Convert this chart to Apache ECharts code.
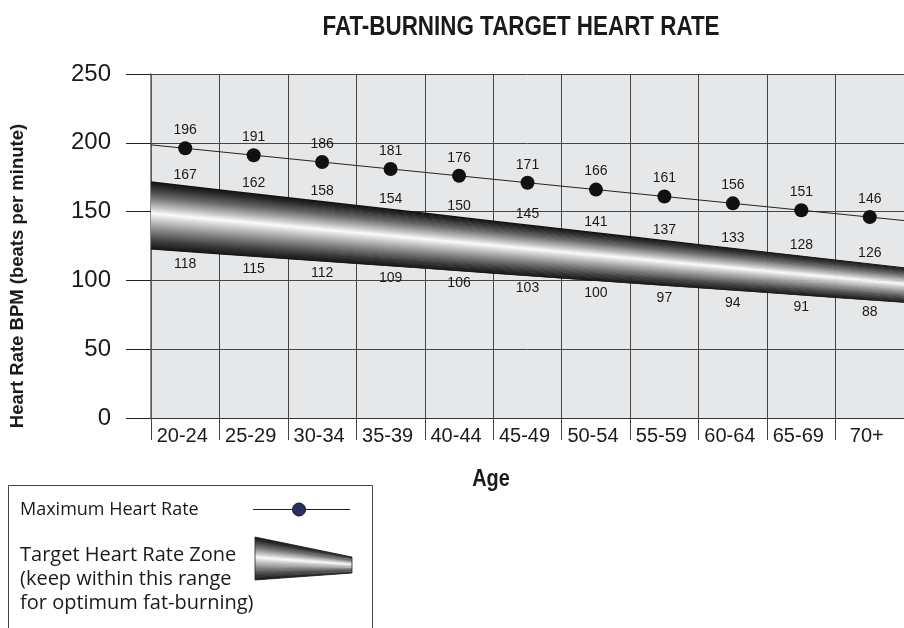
<!DOCTYPE html>
<html>
<head>
<meta charset="utf-8">
<script src="https://cdn.jsdelivr.net/npm/echarts@6/dist/echarts.min.js"></script>
<style>
html,body{margin:0;padding:0;background:#fff;}
#chart{width:904px;height:628px;}
</style>
</head>
<body>
<div id="chart"></div>
<script>
// ---- data ----
const categories = ['20-24','25-29','30-34','35-39','40-44','45-49','50-54','55-59','60-64','65-69','70+'];
const maxHR = [196,191,186,181,176,171,166,161,156,151,146];
const zoneHigh = [167,162,158,154,150,145,141,137,133,128,126];
const zoneLow = [118,115,112,109,106,103,100,97,94,91,88];
// drawn edges of the shaded zone band at the 12 category boundaries
const bandTop = [172,166.3,160.6,155,149.3,143.6,137.9,132.2,126.5,120.9,115.2,109.5];
const bandBottom = [122.4,118.9,115.4,111.9,108.4,104.9,101.3,97.8,94.3,90.8,87.3,83.8];
const yMin = 0, yMax = 250, yStep = 50;

// ---- styling helpers ----
const FONT = "'Liberation Sans', Arial, Helvetica, sans-serif";
const shadeStops = [[0,15],[0.07,40],[0.22,105],[0.38,195],[0.47,252],[0.53,220],[0.7,140],[0.88,60],[1,20]];
function shade(t){
  for (let i=1;i<shadeStops.length;i++){
    const a=shadeStops[i-1], b=shadeStops[i];
    if (t<=b[0]){ const f=(t-a[0])/(b[0]-a[0]); const v=Math.round(a[1]+(b[1]-a[1])*f); return 'rgb('+v+','+v+','+v+')'; }
  }
  const v=shadeStops[shadeStops.length-1][1]; return 'rgb('+v+','+v+','+v+')';
}
const STRIPS = 60;
function stripsBetween(topPts, botPts){
  const out=[];
  for (let k=0;k<STRIPS;k++){
    const t0=k/STRIPS, t1=Math.min(1,(k+1)/STRIPS+0.012);
    const up=topPts.map((p,j)=>[p[0]+(botPts[j][0]-p[0])*t0, p[1]+(botPts[j][1]-p[1])*t0]);
    const lo=topPts.map((p,j)=>[p[0]+(botPts[j][0]-p[0])*t1, p[1]+(botPts[j][1]-p[1])*t1]).reverse();
    out.push({type:'polygon', shape:{points:up.concat(lo)}, style:{fill:shade((k+0.5)/STRIPS), stroke:null}});
  }
  return out;
}

// max line: extend to the plot edges along the same slope
const maxLineData = [{value:[0, maxHR[0]+(maxHR[0]-maxHR[1])/2], symbol:'none', label:{show:false}}]
  .concat(maxHR.map((v,i)=>({value:[i+0.5, v]})))
  .concat([{value:[categories.length, maxHR[maxHR.length-1]-(maxHR[maxHR.length-2]-maxHR[maxHR.length-1])/2], symbol:'none', label:{show:false}}]);

const highLabelData = zoneHigh.map((v,i)=>({name:String(v), value:[i+0.5,(bandTop[i]+bandTop[i+1])/2]}));
const lowLabelData = zoneLow.map((v,i)=>({name:String(v), value:[i+0.5,(bandBottom[i]+bandBottom[i+1])/2]}));

// legend icon strips
const legTop=[[255,537],[352,557]], legBot=[[255,580],[352,573]];
const labelStyle = {fontFamily:FONT, fontSize:14, fontWeight:'normal', color:'#1a1a1a', textBorderWidth:0};
const LEGFONT = "'Open Sans', sans-serif";

const chart = echarts.init(document.getElementById('chart'), null, {renderer:'canvas'});
chart.setOption({
  animation:false,
  backgroundColor:'#ffffff',
  grid:{left:147, top:74, right:-1, bottom:210, show:true, backgroundColor:'#e6e7e8', borderWidth:0},
  xAxis:[{
    type:'category', data:categories, boundaryGap:true, position:'bottom',
    axisLine:{show:true, lineStyle:{color:'#333', width:1}},
    axisTick:{show:true, length:22, lineStyle:{color:'#444', width:1}},
    splitLine:{show:true, lineStyle:{color:'#444', width:1}},
    axisLabel:{fontFamily:FONT, fontSize:20, color:'#1a1a1a', margin:8, interval:0, padding:[0,6,0,0]}
  },{
    type:'value', min:0, max:categories.length, show:false, splitLine:{show:false}
  }],
  yAxis:{
    type:'value', min:yMin, max:yMax, interval:yStep,
    name:'Heart Rate BPM (beats per minute)', nameLocation:'middle', nameGap:124,
    nameTextStyle:{fontFamily:FONT, fontWeight:'bold', fontSize:18.5, color:'#1a1a1a', padding:[0,60,0,0]},
    axisLine:{show:true, lineStyle:{color:'#666', width:1.5}},
    axisTick:{show:true, length:25, lineStyle:{color:'#222', width:1}},
    splitLine:{show:true, lineStyle:{color:'#444', width:1}},
    axisLabel:{fontFamily:FONT, fontSize:24, color:'#1a1a1a', margin:40}
  },
  series:[
    {
      type:'custom', xAxisIndex:1, yAxisIndex:0, data:[[0]], z:3, silent:true,
      renderItem:function(params, api){
        const tops=bandTop.map((v,j)=>api.coord([j,v]));
        const bots=bandBottom.map((v,j)=>api.coord([j,v]));
        return {type:'group', children:stripsBetween(tops,bots)};
      }
    },
    {
      type:'scatter', xAxisIndex:1, yAxisIndex:0, data:highLabelData, symbolSize:0, z:5, silent:true,
      itemStyle:{opacity:1},
      label:Object.assign({show:true, position:'top', distance:3, formatter:'{b}'}, labelStyle)
    },
    {
      type:'scatter', xAxisIndex:1, yAxisIndex:0, data:lowLabelData, symbolSize:0, z:5, silent:true,
      itemStyle:{opacity:1},
      label:Object.assign({show:true, position:'bottom', distance:5, formatter:'{b}'}, labelStyle)
    },
    {
      type:'line', name:'Maximum Heart Rate', xAxisIndex:1, yAxisIndex:0, data:maxLineData, z:6,
      symbol:'circle', symbolSize:14, showSymbol:true, silent:true,
      lineStyle:{color:'#222', width:1},
      itemStyle:{color:'#111', borderWidth:0},
      label:Object.assign({show:true, position:'top', distance:4, formatter:function(p){return p.value[1];}}, labelStyle)
    }
  ],
  graphic:[
    {type:'text', x:521, y:28, scaleX:0.83, style:{text:'FAT-BURNING TARGET HEART RATE', font:'bold 27px '+FONT, fill:'#1a1a1a', align:'center', verticalAlign:'middle'}},
    {type:'text', x:491, y:479, scaleX:0.83, style:{text:'Age', font:'bold 24px '+FONT, fill:'#1a1a1a', align:'center', verticalAlign:'middle'}},
    {type:'rect', shape:{x:8.5, y:485.5, width:364, height:200}, style:{fill:'#fff', stroke:'#444', lineWidth:1}},
    {type:'text', x:20, y:510, style:{text:'Maximum Heart Rate', font:"18px "+LEGFONT, fill:'#1a1a1a', verticalAlign:'middle'}},
    {type:'line', shape:{x1:253, y1:509.5, x2:350, y2:509.5}, style:{stroke:'#222', lineWidth:1}},
    {type:'circle', shape:{cx:299, cy:509.5, r:6.5}, style:{fill:'#2b2e63', stroke:'#111', lineWidth:1}},
    {type:'text', x:20, y:555, style:{text:'Target Heart Rate Zone', font:"20px "+LEGFONT, fill:'#1a1a1a', verticalAlign:'middle'}},
    {type:'text', x:20, y:579, style:{text:'(keep within this range', font:"20px "+LEGFONT, fill:'#1a1a1a', verticalAlign:'middle'}},
    {type:'text', x:20, y:603, style:{text:'for optimum fat-burning)', font:"20px "+LEGFONT, fill:'#1a1a1a', verticalAlign:'middle'}},
    {type:'group', children: stripsBetween(legTop, legBot).concat([
      {type:'polygon', shape:{points:[legTop[0],legTop[1],legBot[1],legBot[0]]}, style:{fill:null, stroke:'#222', lineWidth:0.8}}
    ])}
  ]
});
</script>
</body>
</html>
